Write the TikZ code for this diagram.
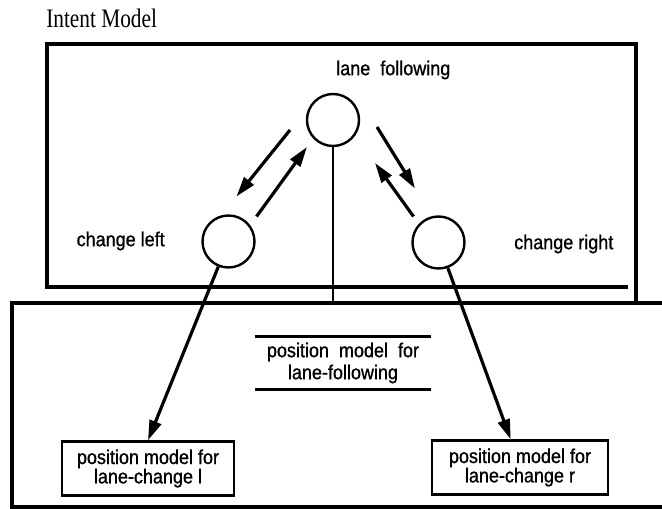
\documentclass[tikz,border=0pt]{standalone}
\usepackage{fontspec}
\newfontfamily\labelfont[FakeStretch=0.9,FakeBold=1]{Liberation Sans}
\newfontfamily\titlefont[FakeStretch=0.8]{Liberation Serif}
\usetikzlibrary{arrows.meta,positioning,calc}

\begin{document}
\begin{tikzpicture}[x=0.75pt,y=-0.75pt,
  lbl/.style={font=\labelfont\fontsize{15}{16.5}\selectfont,inner sep=0pt},
  state/.style={circle,draw,line width=1.8pt,minimum size=39pt,inner sep=0pt},
  pbox/.style={draw,line width=2.2pt,align=center,minimum height=40pt,inner sep=2pt,font=\labelfont\fontsize{15}{14.5}\selectfont},
  frame/.style={line width=3pt},
  bar/.style={line width=2.6pt},
  arr/.style={line width=2.4pt,-{Triangle[length=15pt,width=9pt]}}]
\useasboundingbox (0,0) rectangle (662,509);

\node[font=\titlefont\fontsize{20}{21}\selectfont,anchor=west,inner sep=0pt] (title) at (46,18) {Intent Model};

\draw[frame] (636,303) -- (636,44) -- (47,44) -- (47,287) -- (628,287);
\draw[frame] (662,303) -- (12,303) -- (12,507) -- (662,507);

\node[state] (follow) at (333,120) {};
\node[state] (left) at (228.5,241.5) {};
\node[state] (right) at (438.5,242.5) {};

\node[lbl,anchor=west] (tfollow) at (336,70) {lane\ \ following};
\node[lbl,anchor=east] (tleft) at (165,241) {change left};
\node[lbl,anchor=west] (tright) at (514,244) {change right};

\draw[arr] ([shift={(-43,10)}]follow.center) -- ([shift={(8,-45)}]left.center);
\draw[arr] ([shift={(28,-25)}]left.center) -- ([shift={(-26,27)}]follow.center);
\draw[arr] ([shift={(44,7)}]follow.center) -- ([shift={(-23.5,-54)}]right.center);
\draw[arr] ([shift={(-25,-26)}]right.center) -- ([shift={(42,43)}]follow.center);

\coordinate (joint) at (333,303);
\draw[line width=1.5pt] (follow) -- (joint);

\node[lbl,align=center,minimum width=132pt,minimum height=39pt] (posfollow) at (343,363) {position\ \ model\ \ for\\lane-following};
\draw[bar] (posfollow.north west) -- (posfollow.north east);
\draw[bar] (posfollow.south west) -- (posfollow.south east);

\node[pbox,minimum width=129pt] (lcleft) at (148,468.5) {position model for\\lane-change l};
\node[pbox,minimum width=132pt] (lcright) at (520,467.5) {position model for\\lane-change r};

\draw[arr] (left) -- (lcleft.north);
\draw[arr] (right) -- ([xshift=-7]lcright.north);
\end{tikzpicture}
\end{document}
